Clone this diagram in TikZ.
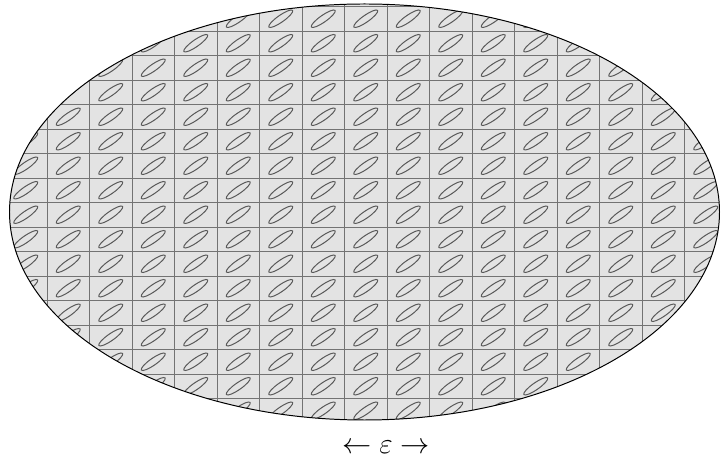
\documentclass[tikz,border=0pt]{standalone}
\usetikzlibrary{
    calc,        % For coordinate calculations
    positioning  % For label positioning
}

\begin{document}
\begin{tikzpicture}[
    x=0.025cm, y=0.025cm, % one unit = one pixel of the sketch
    outline/.style={draw=black, line width=0.7pt}, % Outline of the big region
    gridline/.style={draw=black!55, line width=0.6pt}, % Cell boundaries
    cell/.style={draw=black!65, line width=0.7pt},     % Small tilted ellipses
    labelstyle/.style={font=\huge}]

    \useasboundingbox (0,0) rectangle (722,458);

    % Define center and radii of the big ellipse
    \coordinate (c0) at (364.5,246);
    \def\rx{355}
    \def\ry{208}

    % Fill, grid and cells, clipped to the ellipse
    \begin{scope}
        \clip (c0) ellipse ({\rx} and {\ry});
        \fill[black!11] (c0) ellipse ({\rx} and {\ry});
        \foreach \i in {0,...,17}
            \draw[gridline] (4.5+42.5*\i,0) -- (4.5+42.5*\i,458);
        \foreach \j in {0,...,18}
            \draw[gridline] (0,451.5-24.5*\j) -- (722,451.5-24.5*\j);
        \foreach \i in {0,...,16}
            \foreach \j in {0,...,17}
                \draw[cell] (25.75+42.5*\i,439.25-24.5*\j)
                    ellipse[x radius=14.5, y radius=3.4, rotate=35];
    \end{scope}

    % Draw outline of the region
    \draw[outline] (c0) ellipse ({\rx} and {\ry});

    % Label under the region
    \node[labelstyle] (eps) at (386,11) {$\leftarrow \varepsilon \rightarrow$};

\end{tikzpicture}
\end{document}
